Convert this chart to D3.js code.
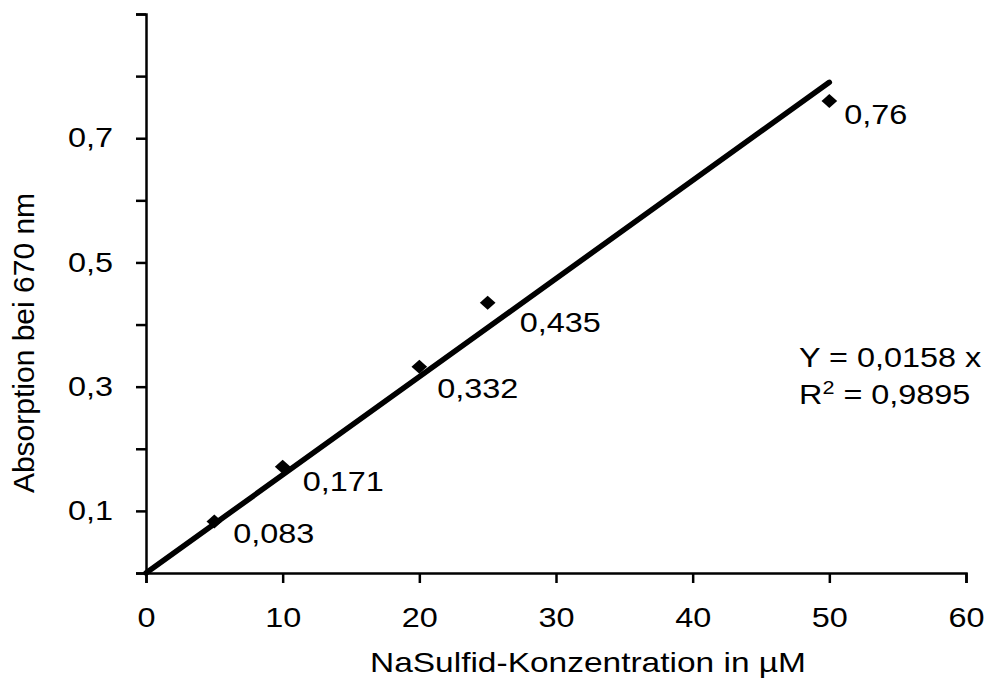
<!DOCTYPE html>
<html>
<head>
<meta charset="utf-8">
<script src="https://cdn.jsdelivr.net/npm/d3@7"></script>
<style>
  body { margin: 0; background: #fff; }
  text { font-family: "Liberation Sans", Arial, sans-serif; fill: #000; }
</style>
</head>
<body>
<div id="chart"></div>
<script>
// data
let concentrations = [5, 10, 20, 25, 50];
let absorptions = [0.083, 0.171, 0.332, 0.435, 0.76];
let pointLabels = ["0,083", "0,171", "0,332", "0,435", "0,76"];
let xTicks = [0, 10, 20, 30, 40, 50, 60];
let yTicks = [0, 0.1, 0.2, 0.3, 0.4, 0.5, 0.6, 0.7, 0.8, 0.9];
let yTickLabels = ["", "0,1", "", "0,3", "", "0,5", "", "0,7", "", ""];
let slope = 0.0158;
let fitRange = [0, 50];

// label nudges (px) relative to each point, layout only
let labelNudge = [[19, 22], [20, 24], [18, 31], [32, 29], [15, 23]];

let width = 987, height = 682;
let margin = {left: 146, right: 21, top: 14, bottom: 109};
let stretch = 1.2;
let fontSize = 27;

let svg = d3.select("#chart").append("svg")
  .attr("width", width)
  .attr("height", height);

let xScale = d3.scaleLinear().domain([0, 60]).range([margin.left, width - margin.right]);
let yScale = d3.scaleLinear().domain([0, 0.9]).range([height - margin.bottom, margin.top]);

// widen text horizontally around its own anchor point
function widen(sel, s) {
  sel.each(function() {
    let t = d3.select(this);
    let x = +t.attr("x") || 0;
    t.attr("transform", "translate(" + x + ",0) scale(" + s + ",1) translate(" + (-x) + ",0)");
  });
}

// y axis
let yAxis = svg.append("g")
  .attr("transform", "translate(" + margin.left + ",0)")
  .call(d3.axisLeft(yScale).tickValues(yTicks).tickSize(10).tickPadding(23)
    .tickFormat((d, i) => yTickLabels[i]));
yAxis.select(".domain").attr("stroke-width", 2.5);
yAxis.selectAll(".tick line").attr("stroke-width", 2.5);
yAxis.selectAll("text").attr("font-size", fontSize).attr("font-family", "Liberation Sans, Arial, sans-serif");
widen(yAxis.selectAll("text"), stretch);

// x axis
let xAxis = svg.append("g")
  .attr("transform", "translate(0," + (height - margin.bottom) + ")")
  .call(d3.axisBottom(xScale).tickValues(xTicks).tickSize(10).tickPadding(25).tickFormat(d3.format("d")));
xAxis.select(".domain").attr("stroke-width", 2.5);
xAxis.selectAll(".tick line").attr("stroke-width", 2.5);
xAxis.selectAll("text").attr("font-size", fontSize).attr("font-family", "Liberation Sans, Arial, sans-serif");
widen(xAxis.selectAll("text"), stretch);

// trend line
svg.append("line")
  .attr("x1", xScale(fitRange[0]))
  .attr("y1", yScale(slope * fitRange[0]))
  .attr("x2", xScale(fitRange[1]))
  .attr("y2", yScale(slope * fitRange[1]))
  .attr("stroke", "#000")
  .attr("stroke-width", 5.5)
  .attr("stroke-linecap", "round");

// diamond markers
let points = concentrations.map((c, i) => ({x: c, y: absorptions[i], label: pointLabels[i], i: i}));
svg.selectAll(".pt")
  .data(points)
  .enter()
  .append("path")
  .attr("class", "pt")
  .attr("d", d3.symbol().type(d3.symbolDiamond2).size(125))
  .attr("transform", d => "translate(" + xScale(d.x) + "," + yScale(d.y) + ") scale(1.12,1)")
  .attr("fill", "#000");

// point labels
let lbls = svg.selectAll(".lbl")
  .data(points)
  .enter()
  .append("text")
  .attr("class", "lbl")
  .attr("x", d => xScale(d.x) + labelNudge[d.i][0])
  .attr("y", d => yScale(d.y) + labelNudge[d.i][1])
  .attr("font-size", fontSize)
  .text(d => d.label);
widen(lbls, stretch);

// equation
let eq = svg.append("text")
  .attr("x", 799)
  .attr("y", 367)
  .attr("font-size", fontSize)
  .text("Y = 0,0158 x");
widen(eq, stretch);
let r2 = svg.append("text")
  .attr("x", 799)
  .attr("y", 404)
  .attr("font-size", fontSize);
r2.append("tspan").text("R");
r2.append("tspan").attr("dy", -10).attr("font-size", 18).text("2");
r2.append("tspan").attr("dy", 10).text(" = 0,9895");
widen(r2, stretch);

// axis titles
let xTitle = svg.append("text")
  .attr("x", 588)
  .attr("y", 672)
  .attr("text-anchor", "middle")
  .attr("font-size", fontSize)
  .text("NaSulfid-Konzentration in µM");
widen(xTitle, 1.24);

svg.append("text")
  .attr("transform", "translate(34,343) rotate(-90)")
  .attr("text-anchor", "middle")
  .attr("font-size", 30)
  .text("Absorption bei 670 nm");
</script>
</body>
</html>
